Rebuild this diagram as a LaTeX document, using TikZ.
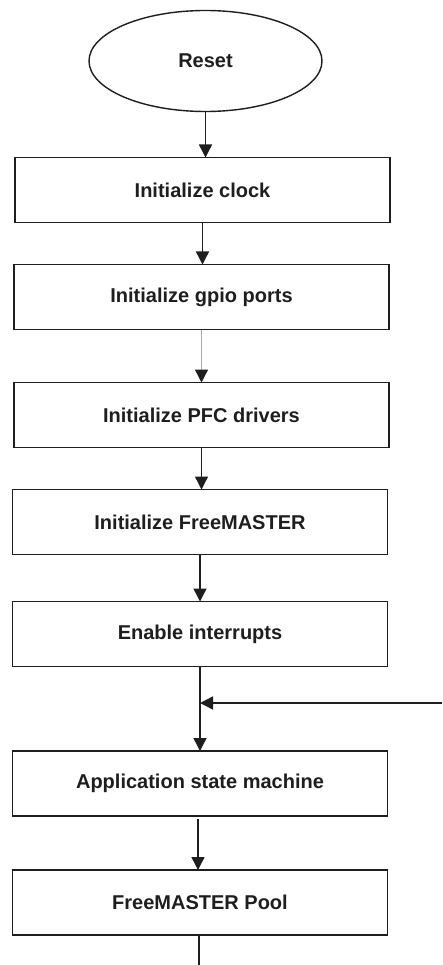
\documentclass[tikz,border=0pt]{standalone}
\usepackage{fontspec}
\setmainfont{Liberation Sans}
\usetikzlibrary{shapes.geometric,arrows.meta}
\definecolor{ink}{RGB}{30,30,30}
\definecolor{faint}{RGB}{170,170,170}
\tikzset{
  x=1pt, y=1pt,
  every node/.style={font=\fontsize{20}{24}\selectfont\bfseries, text=ink},
  stepbox/.style={draw=ink, line width=1.6pt, rectangle, minimum width=375pt, minimum height=65pt, inner sep=0pt, outer sep=0pt},
  startnode/.style={draw=ink, line width=1.4pt, ellipse, minimum width=233pt, minimum height=101pt, inner sep=0pt, outer sep=0pt},
  flow/.style={draw=ink, line width=1.4pt, -{Triangle[length=13pt,width=13pt,color=ink]}},
}
\begin{document}
\begin{tikzpicture}
\useasboundingbox (0,0) rectangle (442,-965);
\fill[white] (0,0) rectangle (442,-965);

\node[startnode] (reset) at (205.5,-61) {\raisebox{-2pt}{Reset}};
\node[stepbox] (clock) at (202.5,-190) {Initialize clock};
\node[stepbox] (gpio)  at (201.5,-297) {Initialize gpio ports};
\node[stepbox] (pfc)   at (201.5,-415) {Initialize PFC drivers};
\node[stepbox] (fm)    at (200,-522) {Initialize FreeMASTER};
\node[stepbox] (irq)   at (200,-634) {Enable interrupts};
\node[stepbox] (app)   at (200,-783.5) {Application state machine};
\node[stepbox] (pool)  at (200,-902.5) {FreeMASTER Pool};

\coordinate (loopin) at (442,-703);
\coordinate (loopout) at (199,-965);

\draw[flow] (reset.south) -- (reset.south |- clock.north);
\draw[flow] (clock.south) -- (clock.south |- gpio.north);
\draw[flow, draw=faint] (gpio.south) -- (gpio.south |- pfc.north);
\draw[flow] (pfc.south) -- (pfc.south |- fm.north);
\draw[flow] (fm.south) -- (fm.south |- irq.north);
\draw[flow] (irq.south) -- (irq.south |- app.north);
\draw[flow] (loopin) -- (irq.south |- loopin);
\draw[flow, shorten <=3pt] ([xshift=-2pt]app.south) -- ([xshift=-2pt]app.south |- pool.north);
\draw[draw=ink, line width=1.4pt] (pool.south -| loopout) -- (loopout);
\end{tikzpicture}
\end{document}
